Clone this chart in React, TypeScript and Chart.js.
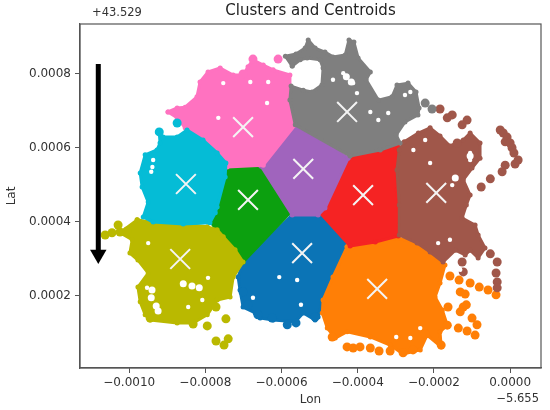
import React, { useEffect, useRef } from "react";
import { Chart, registerables } from "chart.js";

Chart.register(...registerables);

// All coordinates are in millionths of a degree, as offsets from (-5.655, 43.529).
const lonTicks = [-1000, -800, -600, -400, -200, 0];
const latTicks = [200, 400, 600, 800];

const blueLon = [-572, -499, -420, -433, -494, -504, -512, -543, -564, -622, -656, -669, -701, -709, -714, -701, -572];
const blueLat = [418, 418, 332, 305, 180, 142, 134, 153, 129, 134, 139, 153, 169, 215, 250, 291, 418];
const blueDotLon = [-585, -562, -512, -662, -625, -688, -701];
const blueDotLat = [121, 126, 142, 148, 139, 175, 210];

const orangeLon = [-428, -367, -294, -244, -202, -171, -184, -197, -178, -165, -184, -181, -218, -236, -281, -315, -367, -428, -459, -480, -493, -491, -465, -428];
const orangeLat = [332, 342, 356, 342, 305, 283, 234, 196, 161, 120, 102, 61, 93, 53, 42, 66, 88, 102, 85, 112, 153, 188, 250, 332];
const orangeDotLon = [-158, -134, -105, -81, -58, -37, -163, -123, -115, -131, -100, -87, -92, -113, -136, -165, -223, -181, -467, -428, -412, -394, -367, -344, -315, -281, -255, -131, -118];
const orangeDotLat = [253, 242, 234, 223, 215, 202, 169, 169, 175, 156, 139, 121, 93, 104, 112, 120, 96, 66, 88, 61, 58, 61, 58, 50, 50, 45, 53, 210, 204];

const greenLon = [-746, -654, -578, -701, -753, -785, -769, -746];
const greenLat = [548, 551, 424, 291, 351, 399, 459, 548];

const redLon = [-425, -362, -294, -297, -291, -294, -354, -420, -499, -425];
const redLat = [572, 594, 602, 486, 391, 361, 345, 334, 424, 572];

const purpleLon = [-654, -564, -425, -486, -504, -572, -654];
const purpleLat = [551, 662, 572, 437, 418, 418, 551];

const brownLon = [-291, -278, -241, -210, -184, -158, -123, -105, -79, -79, -100, -123, -105, -115, -126, -92, -84, -66, -84, -105, -118, -144, -176, -210, -244, -291, -291, -297, -291];
const brownLat = [594, 616, 640, 654, 632, 605, 621, 640, 613, 572, 545, 513, 472, 445, 410, 391, 364, 329, 302, 323, 310, 323, 291, 318, 342, 364, 445, 540, 594];
const brownDotLon = [-184, -152, -165, -113, -126, -139, -26, -18, -8, -13, 0, 5, 10, 21, 13, -13, -21, -52, -76, -34, -37, -34, -34, -52, -123, -126];
const brownDotLat = [705, 689, 681, 675, 662, 613, 648, 640, 629, 616, 613, 600, 586, 567, 556, 553, 535, 516, 494, 291, 261, 237, 221, 313, 264, 291];

const pinkLon = [-898, -874, -853, -822, -814, -793, -761, -727, -701, -688, -675, -648, -622, -578, -578, -570, -564, -648, -743, -769, -806, -853, -874, -898];
const pinkLat = [697, 708, 710, 738, 778, 805, 816, 797, 797, 819, 838, 824, 811, 797, 738, 675, 662, 553, 548, 581, 621, 654, 681, 697];
const pinkDotLon = [-609, -675, -701];
const pinkDotLat = [840, 840, 800];

const grayLon = [-572, -590, -562, -538, -530, -512, -486, -465, -433, -423, -410, -399, -367, -378, -346, -310, -297, -268, -247, -239, -242, -276, -299, -289, -341, -420, -564, -578, -575, -543, -520, -494, -491, -499, -533, -551, -572];
const grayLat = [821, 848, 854, 870, 892, 870, 859, 846, 851, 892, 886, 843, 805, 784, 729, 738, 770, 775, 751, 708, 689, 670, 635, 613, 594, 578, 662, 729, 767, 756, 751, 770, 816, 838, 843, 838, 821];
const grayDotLon = [-223, -205];
const grayDotLat = [721, 705];

const oliveLon = [-979, -937, -858, -795, -769, -753, -722, -701, -727, -735, -769, -795, -832, -874, -945, -958, -971, -977, -950, -977, -998, -992, -1024, -979];
const oliveLat = [405, 397, 394, 386, 378, 359, 324, 291, 250, 196, 188, 148, 126, 126, 134, 148, 183, 223, 261, 296, 315, 351, 370, 405];
const oliveDotLon = [-1063, -1045, -1024, -1005, -1029, -772, -746, -795, -832, -740, -772, -751, -945];
const oliveDotLat = [364, 370, 372, 375, 391, 169, 137, 118, 123, 83, 77, 66, 139];

const cyanLon = [-921, -911, -874, -848, -806, -769, -746, -748, -769, -774, -788, -858, -937, -963, -950, -966, -971, -958, -927, -919, -921];
const cyanLat = [643, 629, 629, 648, 621, 586, 559, 521, 440, 424, 397, 394, 399, 413, 453, 494, 532, 581, 594, 613, 643];
const cyanDotLon = [-874, -921];
const cyanDotLat = [667, 643];

// Places inside the clusters where no point falls.
const gapLon = [-606, -559, -549, -675, -131, -236, -299, -262, -753, -635, -638, -766, -682, -438, -428, -412, -465, -367, -346, -320, -276, -262, -402, -189, -158, -254, -223, -210, -105, -105, -144, -152, -953, -950, -793, -937, -939, -942, -808, -845];
const gapLat = [250, 242, 175, 194, 270, 112, 88, 85, 775, 778, 721, 681, 778, 802, 789, 775, 784, 697, 675, 694, 743, 751, 748, 342, 351, 594, 621, 559, 586, 567, 518, 499, 221, 342, 248, 567, 548, 535, 188, 169];
const wideGapLon = [-940, -942, -929, -924, -858, -835, -816, -105, -144, -430, -417];
const wideGapLat = [215, 194, 172, 158, 232, 226, 221, 578, 518, 792, 778];

const centroidLon = [-851, -701, -543, -688, -428, -386, -194, -546, -866, -349];
const centroidLat = [502, 656, 543, 459, 697, 472, 478, 315, 299, 218];

const arrowLon = [-1081, -1081];
const arrowLat = [827, 323];
const arrowHeadLon = [-1081];
const arrowHeadLat = [311];

const zip = (xs: number[], ys: number[]) => xs.map((x, i) => ({ x: x / 1e6, y: ys[i] / 1e6 }));
const fmt = (v: number) => v.toFixed(4).replace("-", "\u2212");

const cluster = (label: string, color: string, lon: number[], lat: number[], dotLon?: number[], dotLat?: number[]) => {
  const sets: any[] = [
    {
      label,
      data: zip(lon, lat),
      showLine: true,
      fill: "shape",
      tension: 0,
      backgroundColor: color,
      borderColor: color,
      borderWidth: 3,
      borderJoinStyle: "round",
      pointRadius: 2.5,
      pointBorderWidth: 0,
      pointBackgroundColor: color,
    },
  ];
  if (dotLon && dotLat) {
    sets.push({
      label: label + " outliers",
      data: zip(dotLon, dotLat),
      backgroundColor: color,
      borderColor: color,
      pointRadius: 4.5,
      borderWidth: 0,
    });
  }
  return sets;
};

const offsetText = {
  id: "offsetText",
  afterDraw(chart: any) {
    const { ctx, chartArea: a } = chart;
    ctx.save();
    ctx.strokeStyle = "#555";
    ctx.lineWidth = 1.2;
    ctx.strokeRect(a.left, a.top, a.right - a.left, a.bottom - a.top);
    ctx.fillStyle = "#333";
    ctx.font = "11.5px 'DejaVu Sans'";
    ctx.textBaseline = "middle";
    ctx.textAlign = "left";
    ctx.fillText("+43.529", 92, 13);
    ctx.textAlign = "right";
    ctx.fillText("\u22125.655", 539, 399);
    ctx.restore();
  },
};

export default function App() {
  const ref = useRef<HTMLCanvasElement>(null);
  useEffect(() => {
    const layers: any[] = [
      ...cluster("0", "#0b74b6", blueLon, blueLat, blueDotLon, blueDotLat),
      ...cluster("1", "#ff7f06", orangeLon, orangeLat, orangeDotLon, orangeDotLat),
      ...cluster("2", "#0ca00f", greenLon, greenLat),
      ...cluster("3", "#f52323", redLon, redLat),
      ...cluster("4", "#a064bd", purpleLon, purpleLat),
      ...cluster("5", "#a0574a", brownLon, brownLat, brownDotLon, brownDotLat),
      ...cluster("6", "#ff72c0", pinkLon, pinkLat, pinkDotLon, pinkDotLat),
      ...cluster("7", "#7f7f7f", grayLon, grayLat, grayDotLon, grayDotLat),
      ...cluster("8", "#bab900", oliveLon, oliveLat, oliveDotLon, oliveDotLat),
      ...cluster("9", "#05bcd6", cyanLon, cyanLat, cyanDotLon, cyanDotLat),
      {
        label: "gaps",
        data: zip(gapLon, gapLat),
        backgroundColor: "#ffffff",
        pointRadius: 2.2,
        borderWidth: 0,
      },
      {
        label: "wide gaps",
        data: zip(wideGapLon, wideGapLat),
        backgroundColor: "#ffffff",
        pointRadius: 3.5,
        borderWidth: 0,
      },
      {
        label: "centroids",
        data: zip(centroidLon, centroidLat),
        pointStyle: "crossRot",
        pointRadius: 14,
        borderColor: "#f4f4f4",
        borderWidth: 2,
      },
      {
        label: "arrow",
        data: zip(arrowLon, arrowLat),
        showLine: true,
        borderColor: "#000",
        borderWidth: 5,
        pointRadius: 0,
      },
      {
        label: "arrow head",
        data: zip(arrowHeadLon, arrowHeadLat),
        pointStyle: "triangle",
        rotation: 180,
        pointRadius: 9.5,
        backgroundColor: "#000",
        borderWidth: 0,
      },
    ];
    const chart = new Chart(ref.current!, {
      type: "scatter",
      data: { datasets: layers.reverse() },
      plugins: [offsetText],
      options: {
        responsive: false,
        animation: false,
        layout: { padding: { right: 2 } },
        plugins: {
          legend: { display: false },
          tooltip: { enabled: false },
          title: {
            display: true,
            text: "Clusters and Centroids",
            fullSize: false,
            color: "#222",
            font: { family: "'DejaVu Sans'", size: 15, weight: "normal" },
            padding: { top: 2, bottom: 4 },
          },
        },
        scales: {
          x: {
            type: "linear",
            min: -1129e-6,
            max: 81e-6,
            afterBuildTicks: (s: any) => {
              s.ticks = lonTicks.map((v) => ({ value: v / 1e6 }));
            },
            afterFit: (s: any) => {
              s.height = 42;
            },
            grid: { drawOnChartArea: false, tickLength: 5, color: "#555" },
            border: { color: "#555", width: 1.2 },
            ticks: {
              maxRotation: 0,
              autoSkip: false,
              color: "#333",
              padding: 3,
              font: { family: "'DejaVu Sans'", size: 12 },
              callback: (v: any) => fmt(Number(v)),
            },
            title: {
              display: true,
              text: "Lon",
              color: "#333",
              padding: { top: 0, bottom: 3 },
              font: { family: "'DejaVu Sans'", size: 12 },
            },
          },
          y: {
            type: "linear",
            min: 4e-6,
            max: 935e-6,
            afterBuildTicks: (s: any) => {
              s.ticks = latTicks.map((v) => ({ value: v / 1e6 }));
            },
            afterFit: (s: any) => {
              s.width = 80;
            },
            grid: { drawOnChartArea: false, tickLength: 5, color: "#555" },
            border: { color: "#555", width: 1.2 },
            ticks: {
              autoSkip: false,
              color: "#333",
              padding: 4,
              font: { family: "'DejaVu Sans'", size: 12 },
              callback: (v: any) => fmt(Number(v)),
            },
            title: {
              display: true,
              text: "Lat",
              color: "#333",
              padding: { top: 5, bottom: 0 },
              font: { family: "'DejaVu Sans'", size: 12 },
            },
          },
        },
      },
    } as any);
    return () => chart.destroy();
  }, []);
  return (
    <div style={{ position: "absolute", left: 0, top: 0, width: 550, height: 410, overflow: "hidden" }}>
      <canvas ref={ref} width={557} height={410} style={{ display: "block", filter: "blur(0.5px)" }} />
    </div>
  );
}
